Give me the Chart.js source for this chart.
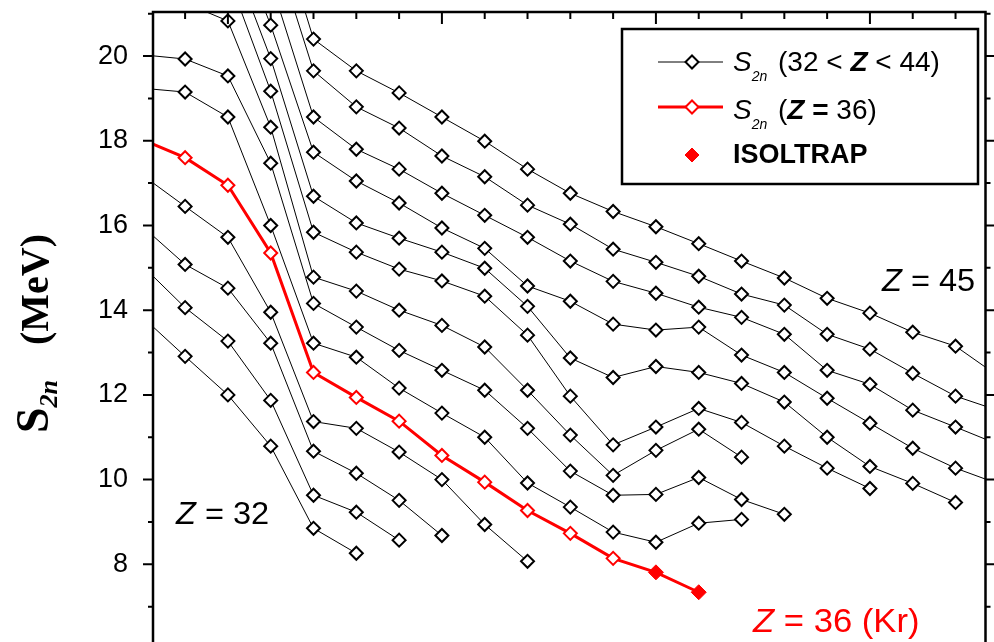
<!DOCTYPE html>
<html>
<head>
<meta charset="utf-8">
<script src="https://cdn.jsdelivr.net/npm/chart.js@4.4.1/dist/chart.umd.min.js"></script>
<style>
  html, body { margin: 0; padding: 0; overflow: hidden; background: #fff; }
  canvas { display: block; }
</style>
</head>
<body>
<canvas id="grafico" width="994" height="700"></canvas>
<script>
// numero de neutrons N (eixo x)
const neutrons = [48, 49, 50, 51, 52, 53, 54, 55, 56, 57, 58, 59, 60, 61, 62, 63, 64, 65, 66, 67, 68];

// S2n (MeV) de cada cadeia isotopica, alinhado com neutrons
const z32 = [13.84, 12.91, 12.0, 10.79, 8.85, 8.26];
const z33 = [15.05, 14.06, 13.27, 11.87, 9.63, 9.23, 8.57];
const z34 = [15.98, 15.08, 14.52, 13.22, 10.67, 10.15, 9.51, 8.68];
const z35 = [17.19, 16.45, 15.72, 13.95, 11.37, 11.21, 10.65, 10.0, 8.94, 8.07];
const z36 = [18.03, 17.6, 16.95, 15.35, 12.53, 11.94, 11.38, 10.57, 9.94, 9.27, 8.73, 8.14, 7.81, 7.34];
const z37 = [19.24, 19.15, 18.56, 16.0, 13.22, 12.89, 12.16, 11.57, 11.0, 9.92, 9.35, 8.76, 8.52, 8.97, 9.06];
const z38 = [20.03, 19.93, 19.53, 17.47, 14.16, 13.6, 13.05, 12.58, 12.11, 11.21, 10.2, 9.63, 9.65, 10.05, 9.53, 9.18];
const z39 = [21.35, 21.25, 20.83, 18.32, 14.78, 14.45, 14.0, 13.64, 13.13, 12.11, 11.05, 10.1, 10.69, 11.19, 10.53];
const z40 = [null, null, 21.9, 19.17, 15.84, 15.37, 14.97, 14.69, 14.33, 13.41, 11.97, 10.82, 11.24, 11.68, 11.35, 10.79, 10.27, 9.79];
const z41 = [null, null, 22.6, 19.94, 16.69, 16.06, 15.7, 15.37, 14.99, 14.09, 12.87, 12.41, 12.67, 12.53, 12.27, 11.83, 11.0, 10.31, 9.91, 9.46];
const z42 = [null, null, 23.3, 20.73, 17.73, 17.05, 16.53, 15.94, 15.46, 14.57, 14.21, 13.67, 13.53, 13.6, 12.94, 12.53, 11.92, 11.33, 10.74, 10.27, 9.9];
const z43 = [null, null, null, 21.76, 18.56, 17.8, 17.33, 16.76, 16.24, 15.72, 15.16, 14.68, 14.4, 14.07, 13.83, 13.43, 12.58, 12.25, 11.64, 11.24, 10.83];
const z44 = [null, null, null, 22.85, 19.65, 18.8, 18.3, 17.64, 17.15, 16.48, 16.03, 15.44, 15.13, 14.8, 14.38, 14.12, 13.43, 13.08, 12.51, 11.97, 11.63];
const z45 = [null, null, null, 23.7, 20.40, 19.65, 19.13, 18.56, 17.99, 17.33, 16.76, 16.33, 15.97, 15.57, 15.16, 14.76, 14.28, 13.93, 13.48, 13.15, 12.44];

// pontos medidos pelo ISOLTRAP (Kr)
const isoltrapN = [60, 61];
const isoltrapS2n = [7.81, 7.34];

const yTicks = [8, 10, 12, 14, 16, 18, 20];

function pontos(valores) {
    return neutrons
        .map((n, i) => ({ x: n, y: valores[i] }))
        .filter(p => p.y !== null && p.y !== undefined);
}

function cadeia(valores) {
    return {
        data: pontos(valores),
        borderColor: "#000",
        borderWidth: 1,
        pointStyle: "rectRot",
        pointRadius: 6.5,
        pointBorderWidth: 2,
        pointBorderColor: "#000",
        pointBackgroundColor: "#fff",
        tension: 0,
        fill: false,
    };
}

// desenha texto em pedacos (italico, subscrito...)
function texto(ctx, x, y, partes, esticar) {
    ctx.save();
    ctx.translate(x, y);
    ctx.scale(esticar || 1, 1);
    let cx = 0;
    partes.forEach(p => {
        ctx.font = p.font;
        if (p.at !== undefined) cx = p.at;
        ctx.fillText(p.t, cx, p.dy || 0);
        cx += ctx.measureText(p.t).width;
    });
    ctx.restore();
}

function losango(ctx, x, y, r, cheio, cor, lw) {
    ctx.beginPath();
    ctx.moveTo(x - r, y);
    ctx.lineTo(x, y - r);
    ctx.lineTo(x + r, y);
    ctx.lineTo(x, y + r);
    ctx.closePath();
    ctx.fillStyle = cheio ? cor : "#fff";
    ctx.fill();
    ctx.lineWidth = lw;
    ctx.strokeStyle = cor;
    ctx.stroke();
}

const moldura = {
    id: "moldura",
    afterDraw(chart) {
        const ctx = chart.ctx;
        const a = chart.chartArea;
        const sx = chart.scales.x;
        const sy = chart.scales.y;
        ctx.save();
        ctx.strokeStyle = "#000";
        ctx.lineCap = "butt";

        // marcas dos eixos
        ctx.lineWidth = 2;
        ctx.beginPath();
        for (let v = 7; v <= 21; v++) {
            const py = sy.getPixelForValue(v);
            const len = v % 2 === 0 ? 10 : 5;
            ctx.moveTo(a.left - len, py);
            ctx.lineTo(a.left, py);
            ctx.moveTo(a.right, py);
            ctx.lineTo(a.right + len, py);
        }
        for (let n = 49; n <= 67; n++) {
            const px = sx.getPixelForValue(n);
            const len = n % 5 === 0 ? 12 : 7;
            ctx.moveTo(px, a.top);
            ctx.lineTo(px, a.top + len);
        }
        ctx.stroke();

        // bordas
        ctx.lineWidth = 2.5;
        ctx.beginPath();
        ctx.moveTo(a.left, chart.height);
        ctx.lineTo(a.left, a.top);
        ctx.lineTo(a.right, a.top);
        ctx.lineTo(a.right, chart.height);
        ctx.stroke();

        // titulo do eixo y
        ctx.save();
        ctx.translate(48, 433);
        ctx.rotate(-Math.PI / 2);
        ctx.fillStyle = "#000";
        ctx.textBaseline = "alphabetic";
        texto(ctx, 0, 0, [
            { t: "S", font: "bold 46px 'Liberation Serif'" },
            { t: "2n", font: "italic bold 26px 'Liberation Serif'", dy: 9 },
            { t: "(MeV)", font: "bold 40px 'Liberation Serif'", at: 88 },
        ]);
        ctx.restore();

        // legenda
        ctx.lineWidth = 2.5;
        ctx.strokeStyle = "#000";
        ctx.strokeRect(622, 29, 356, 155);

        ctx.beginPath();
        ctx.lineWidth = 1;
        ctx.moveTo(658, 62);
        ctx.lineTo(723, 62);
        ctx.stroke();
        losango(ctx, 692, 62, 6.5, false, "#000", 2);

        ctx.beginPath();
        ctx.lineWidth = 3;
        ctx.strokeStyle = "#ff0000";
        ctx.moveTo(658, 107);
        ctx.lineTo(723, 107);
        ctx.stroke();
        losango(ctx, 692, 107, 6.5, false, "#ff0000", 2);

        losango(ctx, 692, 155, 7, true, "#ff0000", 1);

        ctx.fillStyle = "#000";
        const sans = "'Liberation Sans'";
        texto(ctx, 733, 71, [
            { t: "S", font: "italic 28px " + sans },
            { t: "2n", font: "italic 14px " + sans, dy: 10 },
            { t: "(32 < ", font: "28px " + sans, at: 45 },
            { t: "Z", font: "italic bold 28px " + sans },
            { t: " < 44)", font: "28px " + sans },
        ]);
        texto(ctx, 733, 119, [
            { t: "S", font: "italic 28px " + sans },
            { t: "2n", font: "italic 14px " + sans, dy: 10 },
            { t: "(", font: "28px " + sans, at: 45 },
            { t: "Z", font: "italic bold 28px " + sans },
            { t: " = ", font: "bold 28px " + sans },
            { t: "36)", font: "28px " + sans },
        ]);
        texto(ctx, 733, 163, [
            { t: "ISOLTRAP", font: "bold 27px " + sans },
        ]);

        // rotulos das cadeias
        texto(ctx, 176, 524, [
            { t: "Z", font: "italic 31px " + sans },
            { t: " = 32", font: "31px " + sans },
        ], 1.05);
        texto(ctx, 882, 291, [
            { t: "Z", font: "italic 31px " + sans },
            { t: " = 45", font: "31px " + sans },
        ], 1.05);
        ctx.fillStyle = "#ff0000";
        texto(ctx, 753, 632, [
            { t: "Z", font: "italic 33px " + sans },
            { t: " = 36 (Kr)", font: "33px " + sans },
        ], 1.05);

        ctx.restore();
    },
};

const ctx = document.getElementById("grafico");

const pretos = [z32, z33, z34, z35, z37, z38, z39, z40, z41, z42, z43, z44, z45].map(cadeia);

const kr = cadeia(z36);
kr.borderColor = "#ff0000";
kr.borderWidth = 3;
kr.pointBorderColor = "#ff0000";
kr.pointRadius = c => (c.raw && isoltrapN.includes(c.raw.x) ? 0 : 6.5);

const isoltrap = {
    data: isoltrapN.map((n, i) => ({ x: n, y: isoltrapS2n[i] })),
    showLine: false,
    pointStyle: "rectRot",
    pointRadius: 7.5,
    pointBorderWidth: 1,
    pointBorderColor: "#ff0000",
    pointBackgroundColor: "#ff0000",
};

new Chart(ctx, {
    type: "line",
    data: {
        datasets: [isoltrap, kr, ...pretos],
    },
    options: {
        responsive: false,
        animation: false,
        events: [],
        layout: {
            padding: { top: 12, right: 6, bottom: 51, left: 0 },
        },
        plugins: {
            legend: { display: false },
            tooltip: { enabled: false },
        },
        scales: {
            x: {
                type: "linear",
                min: 48.25,
                max: 67.7,
                display: false,
            },
            y: {
                min: 6,
                max: 21.04,
                afterFit: s => {
                    s.width = 153;
                    s.paddingTop = 0;
                    s.paddingBottom = 0;
                },
                afterBuildTicks: s => {
                    s.ticks = yTicks.map(v => ({ value: v }));
                },
                grid: { display: false, drawTicks: false },
                border: { display: false },
                ticks: {
                    padding: 25,
                    color: "#000",
                    font: { family: "'Liberation Sans'", size: 27 },
                },
            },
        },
    },
    plugins: [moldura],
});
</script>
</body>
</html>
